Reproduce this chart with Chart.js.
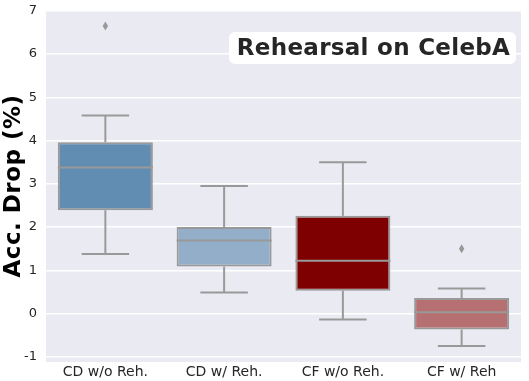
<!DOCTYPE html>
<html>
<head>
<meta charset="utf-8">
<script src="https://cdn.jsdelivr.net/npm/chart.js@4"></script>
<style>
  html, body { margin: 0; padding: 0; background: #fff; }
  #wrap { width: 529px; height: 381px; }
</style>
</head>
<body>
<div id="wrap"><canvas id="boxChart"></canvas></div>
<script>
// values
const groups = ['CD w/o Reh.', 'CD w/ Reh.', 'CF w/o Reh.', 'CF w/ Reh'];
const whiskLow = [1.38, 0.49, -0.14, -0.75];
const q1 = [2.39, 1.09, 0.53, -0.37];
const medians = [3.38, 1.69, 1.22, 0.03];
const q3 = [3.96, 2.00, 2.26, 0.36];
const whiskHigh = [4.58, 2.95, 3.50, 0.58];
const outliers = [[6.65], [], [], [1.50]];
const yTicks = [-1, 0, 1, 2, 3, 4, 5, 6, 7];
const boxColors = ['rgb(97,141,178)', 'rgb(146,174,201)', 'rgb(127,0,0)', 'rgb(183,112,114)'];

const lineGray = 'rgb(153,153,153)';

const bgPlugin = {
    id: 'plotBg',
    beforeDraw(chart) {
        const a = chart.chartArea, ctx = chart.ctx;
        ctx.save();
        ctx.fillStyle = '#EAEAF2';
        ctx.fillRect(a.left, a.top, a.right - a.left, a.bottom - a.top);
        ctx.restore();
    }
};

const boxPlugin = {
    id: 'boxParts',
    afterDatasetsDraw(chart) {
        const ctx = chart.ctx;
        const x = chart.scales.x, y = chart.scales.y;
        const meta = chart.getDatasetMeta(0);
        ctx.save();
        ctx.strokeStyle = lineGray;
        ctx.lineWidth = 2;
        groups.forEach((g, i) => {
            const bar = meta.data[i];
            const cx = x.getPixelForValue(i);
            const half = bar.width / 2;
            const cap = half / 2;
            const line = (x1, y1, x2, y2) => {
                ctx.beginPath(); ctx.moveTo(x1, y1); ctx.lineTo(x2, y2); ctx.stroke();
            };
            // whiskers + caps
            line(cx, y.getPixelForValue(q3[i]), cx, y.getPixelForValue(whiskHigh[i]));
            line(cx, y.getPixelForValue(q1[i]), cx, y.getPixelForValue(whiskLow[i]));
            line(cx - cap, y.getPixelForValue(whiskHigh[i]), cx + cap, y.getPixelForValue(whiskHigh[i]));
            line(cx - cap, y.getPixelForValue(whiskLow[i]), cx + cap, y.getPixelForValue(whiskLow[i]));
            // median
            line(cx - half, y.getPixelForValue(medians[i]), cx + half, y.getPixelForValue(medians[i]));
            // outliers (thin diamonds)
            ctx.fillStyle = lineGray;
            outliers[i].forEach(v => {
                const py = y.getPixelForValue(v);
                ctx.beginPath();
                ctx.moveTo(cx, py - 4.5);
                ctx.lineTo(cx + 2.7, py);
                ctx.lineTo(cx, py + 4.5);
                ctx.lineTo(cx - 2.7, py);
                ctx.closePath();
                ctx.fill();
            });
        });
        ctx.restore();
    }
};

const titlePlugin = {
    id: 'boxTitle',
    afterDraw(chart) {
        const ctx = chart.ctx;
        const text = 'Rehearsal on CelebA';
        ctx.save();
        ctx.font = 'bold 23px "DejaVu Sans"';
        ctx.letterSpacing = '0.3px';
        const w = ctx.measureText(text).width;
        const bx = 229, by = 32, bw = 287, bh = 32;
        ctx.fillStyle = '#ffffff';
        ctx.beginPath();
        ctx.roundRect(bx, by, bw, bh, 6);
        ctx.fill();
        ctx.fillStyle = '#262626';
        ctx.textBaseline = 'middle';
        ctx.textAlign = 'left';
        ctx.fillText(text, bx + (bw - w) / 2 + 1, by + bh / 2 + 1);
        // y axis label
        ctx.translate(14, 186);
        ctx.rotate(-Math.PI / 2);
        ctx.textAlign = 'center';
        ctx.font = 'bold 23px "DejaVu Sans"';
        ctx.letterSpacing = '0.5px';
        ctx.fillStyle = '#000000';
        ctx.fillText('Acc. Drop (%)', 0, 0);
        ctx.restore();
    }
};

new Chart(document.getElementById('boxChart'), {
    type: 'bar',
    data: {
        labels: groups,
        datasets: [{
            label: 'box',
            data: groups.map((g, i) => [q1[i], q3[i]]),
            backgroundColor: boxColors,
            borderColor: lineGray,
            borderWidth: 2,
            borderSkipped: false,
            barPercentage: 0.8,
            categoryPercentage: 1.0
        }]
    },
    options: {
        responsive: true,
        maintainAspectRatio: false,
        animation: false,
        layout: { padding: { top: 10, right: 8, left: 0, bottom: 0 } },
        plugins: { legend: { display: false }, tooltip: { enabled: false } },
        scales: {
            x: {
                grid: { display: false, drawTicks: false },
                border: { display: false },
                ticks: { color: '#262626', font: { family: 'DejaVu Sans', size: 14 }, padding: 2 },
                afterFit(s) { s.height = 19; s.paddingLeft = 0; s.paddingRight = 0; }
            },
            y: {
                min: -1.12,
                max: 7.02,
                grid: { color: '#ffffff', lineWidth: 1.5, drawTicks: false },
                border: { display: false },
                ticks: { color: '#262626', font: { family: 'DejaVu Sans', size: 13 }, padding: 9 },
                afterBuildTicks(s) { s.ticks = yTicks.map(v => ({ value: v })); },
                afterFit(s) { s.width = 46; s.paddingTop = 0; s.paddingBottom = 0; }
            }
        }
    },
    plugins: [bgPlugin, boxPlugin, titlePlugin]
});
</script>
</body>
</html>
